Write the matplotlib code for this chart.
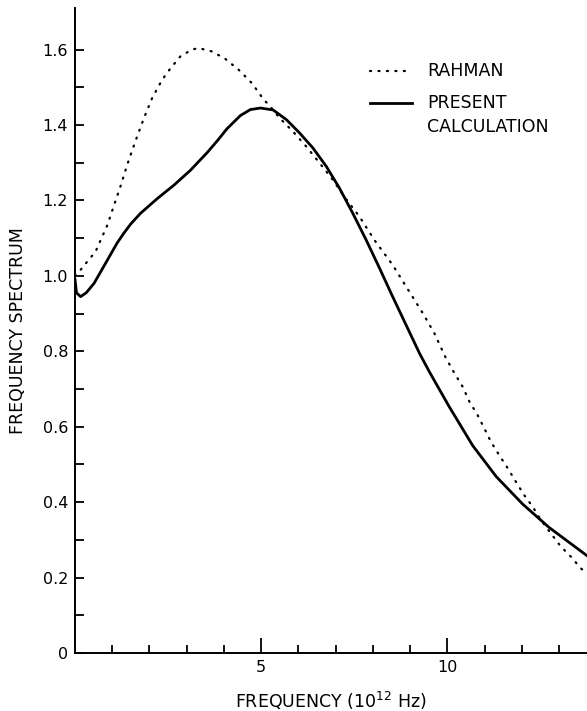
import matplotlib
matplotlib.use("Agg")
import matplotlib.pyplot as plt

# valores (frequência em 10^12 Hz)
rahman_x = [0.0, 0.15, 0.33, 0.55, 0.69, 0.87, 1.05, 1.22, 1.40, 1.54, 1.67, 1.85,
            2.07, 2.34, 2.57, 2.83, 3.14, 3.32, 3.68, 4.04, 4.40, 4.75, 5.07, 5.20,
            5.50, 5.85, 6.21, 6.57, 6.92, 7.24, 7.64, 8.04, 8.53, 8.89, 9.34, 9.65,
            9.96, 10.19, 10.41, 10.59, 10.81, 10.99, 11.17, 11.39, 11.62, 11.84,
            12.06, 12.29, 12.51, 12.78, 13.05, 13.32, 13.58, 13.75]
rahman_y = [1.0, 1.016, 1.038, 1.064, 1.095, 1.135, 1.188, 1.237, 1.294, 1.334, 1.37, 1.418,
            1.471, 1.52, 1.551, 1.582, 1.60, 1.604, 1.595, 1.575, 1.546, 1.511, 1.467, 1.454,
            1.418, 1.383, 1.343, 1.299, 1.255, 1.209, 1.157, 1.095, 1.029, 0.972, 0.901, 0.848,
            0.782, 0.742, 0.706, 0.667, 0.631, 0.596, 0.56, 0.525, 0.49, 0.454,
            0.419, 0.388, 0.353, 0.317, 0.282, 0.255, 0.225, 0.21]

present_x = [0.0, 0.04, 0.15, 0.3, 0.51, 0.87, 1.13, 1.31, 1.5, 1.76, 2.21, 2.65, 3.10,
             3.55, 3.82, 4.08, 4.44, 4.71, 4.98, 5.32, 5.68, 6.03, 6.39, 6.75, 7.10,
             7.46, 7.82, 8.18, 8.53, 8.89, 9.25, 9.52, 10.05, 10.68, 11.31, 12.02,
             12.73, 13.75]
present_y = [0.99, 0.955, 0.945, 0.955, 0.98, 1.042, 1.087, 1.113, 1.138, 1.166, 1.205, 1.24,
             1.28, 1.327, 1.358, 1.39, 1.425, 1.441, 1.445, 1.44, 1.414, 1.379, 1.339, 1.29,
             1.233, 1.166, 1.095, 1.02, 0.945, 0.87, 0.795, 0.745, 0.653, 0.55, 0.468,
             0.395, 0.333, 0.258]

y_major = [0, 0.2, 0.4, 0.6, 0.8, 1.0, 1.2, 1.4, 1.6]
y_labels = ["0", "0.2", "0.4", "0.6", "0.8", "1.0", "1.2", "1.4", "1.6"]
y_minor = [0.1, 0.3, 0.5, 0.7, 0.9, 1.1, 1.3, 1.5]
x_major = [5, 10]
x_labels = ["5", "10"]
x_minor = [1, 2, 3, 4, 6, 7, 8, 9, 11, 12, 13]

plt.rcParams['font.family'] = ['DejaVu Sans']

fig = plt.figure(figsize=(5.87, 7.11), dpi=100)
ax = fig.add_axes([0.1278, 0.0816, 0.8722, 0.907])

dots = (0, (0.5, 3.3))
ax.plot(rahman_x, rahman_y, color='black', linewidth=1.6,
        linestyle=dots, dash_capstyle='round')
ax.plot(present_x, present_y, color='black', linewidth=2.0, solid_joinstyle='round')

ax.set_xlim(0, 13.75)
ax.set_ylim(0, 1.71)

for s in ['top', 'right']:
    ax.spines[s].set_visible(False)
for s in ['left', 'bottom']:
    ax.spines[s].set_linewidth(1.4)

ax.set_yticks(y_major)
ax.set_yticklabels(y_labels)
ax.set_yticks(y_minor, minor=True)
ax.set_xticks(x_major)
ax.set_xticklabels(x_labels)
ax.set_xticks(x_minor, minor=True)

ax.tick_params(axis='both', which='both', direction='in', width=1.3, labelsize=11.5)
ax.tick_params(axis='y', which='both', length=6.5, pad=5)
ax.tick_params(axis='x', which='major', length=10.5, pad=5)
ax.tick_params(axis='x', which='minor', length=5.8)

ax.set_xlabel("FREQUENCY (10$^{12}$ Hz)", fontsize=12.5, labelpad=11)
ax.set_ylabel("FREQUENCY SPECTRUM", fontsize=12.5, labelpad=11)

# legenda desenhada à mão, como no original
ax.plot([0.576, 0.658], [0.902, 0.902], transform=ax.transAxes, color='black',
        linewidth=1.6, linestyle=dots, dash_capstyle='round')
ax.text(0.6875, 0.902, "RAHMAN", transform=ax.transAxes, fontsize=12.5, va='center')
ax.plot([0.576, 0.658], [0.853, 0.853], transform=ax.transAxes, color='black', linewidth=2.0)
ax.text(0.6875, 0.853, "PRESENT", transform=ax.transAxes, fontsize=12.5, va='center')
ax.text(0.6875, 0.816, "CALCULATION", transform=ax.transAxes, fontsize=12.5, va='center')

plt.savefig("out.png", dpi=100)
plt.close()
